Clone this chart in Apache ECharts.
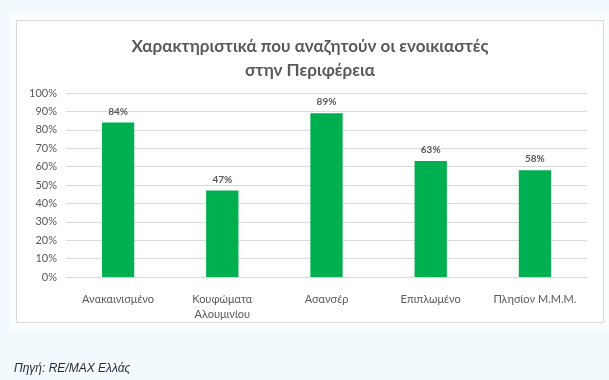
<!DOCTYPE html>
<html>
<head>
<meta charset="utf-8">
<script src="https://cdn.jsdelivr.net/npm/echarts@6/dist/echarts.min.js"></script>
<style>
html,body{margin:0;padding:0;background:#f2fafd;}
#c{width:609px;height:380px;}
</style>
</head>
<body>
<div id="c"></div>
<script>
const titleText = 'Χαρακτηριστικά που αναζητούν οι ενοικιαστές\nστην Περιφέρεια';
const categories = ['Ανακαινισμένο', 'Κουφώματα\nΑλουμινίου', 'Ασανσέρ', 'Επιπλωμένο', 'Πλησίον Μ.Μ.Μ.'];
const values = [0.84, 0.47, 0.89, 0.63, 0.58];
const sourceText = 'Πηγή: RE/MAX Ελλάς';

const chart = echarts.init(document.getElementById('c'), null, {renderer: 'canvas'});
const font = 'Lato, "Noto Sans", sans-serif';
chart.setOption({
  backgroundColor: '#f2fafd',
  animation: false,
  graphic: [
    {type: 'rect', z: -10, shape: {x: 10, y: 12, width: 599, height: 320}, style: {fill: '#f9fdfe'}},
    {type: 'rect', z: -9, shape: {x: 16.5, y: 20.5, width: 587, height: 302}, style: {fill: '#ffffff', stroke: '#d9d9d9', lineWidth: 1}},
    {type: 'text', left: 14, top: 363, style: {text: sourceText, font: 'italic 12px "Liberation Sans", Arial, sans-serif', fill: '#1f2a3c'}}
  ],
  title: {
    text: titleText,
    left: 305, top: 30, textAlign: 'center',
    textStyle: {fontFamily: font, fontSize: 17, fontWeight: 'bold', color: '#595959', lineHeight: 24}
  },
  grid: {left: 66, right: 22, top: 93, bottom: 103, containLabel: false},
  xAxis: {
    type: 'category', data: categories,
    axisLine: {lineStyle: {color: '#d9d9d9'}},
    axisTick: {show: false},
    axisLabel: {color: '#595959', fontFamily: font, fontSize: 11, margin: 15, lineHeight: 15, interval: 0}
  },
  yAxis: {
    type: 'value', min: 0, max: 1, interval: 0.1,
    axisLine: {show: false}, axisTick: {show: false},
    splitLine: {lineStyle: {color: '#d9d9d9'}},
    axisLabel: {color: '#595959', fontFamily: font, fontSize: 11, margin: 9,
      formatter: v => Math.round(v * 100) + '%'}
  },
  series: [{
    type: 'bar', data: values, barWidth: '31%',
    itemStyle: {color: '#00b050'},
    label: {show: true, position: 'top', distance: 6, color: '#595959', fontFamily: font, fontSize: 10, fontWeight: 'bold',
      formatter: p => Math.round(p.value * 100) + '%'}
  }]
});
</script>
</body>
</html>
